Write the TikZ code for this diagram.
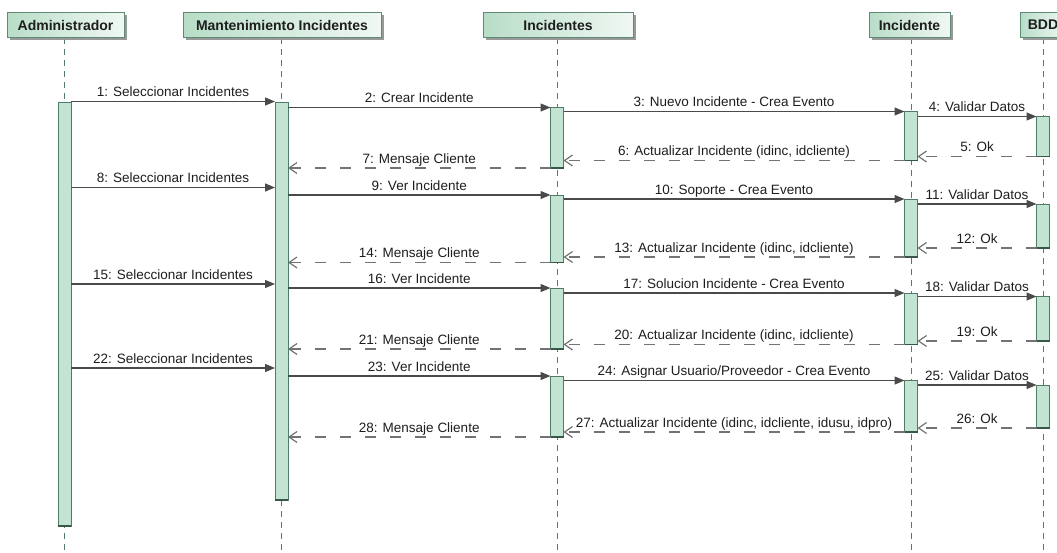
\documentclass[tikz,border=0pt]{standalone}
\usepackage{fontspec}
\setmainfont{Liberation Sans}
\usetikzlibrary{arrows.meta,shadows}
\definecolor{barfill}{HTML}{C3E3D3}
\definecolor{bardraw}{HTML}{4E7C66}
\definecolor{hdrG}{HTML}{B8DDC7}
\definecolor{hdrW}{HTML}{F0F8F3}
\definecolor{hdrdraw}{HTML}{5F8A75}
\definecolor{lifecol}{HTML}{557A68}
\definecolor{callcol}{HTML}{4A4A4A}
\definecolor{retcol}{HTML}{737373}
\definecolor{txtcol}{HTML}{1E1E1E}
\pgfdeclarelayer{bg}
\pgfsetlayers{bg,main}
\newcommand{\actbar}[4]{\node[actbar, minimum height={#4-#3}, anchor=north] (#1) at (#2,#3) {};
  \draw[bardraw!70!black, line width=1.6pt] (#1.south west) -- (#1.south east);}
\newcommand{\callmsg}[4]{\draw[callarrow] (#1.east |- 0,#3) -- node[lbl]{#4} (#2.west |- 0,#3);}
\newcommand{\retmsg}[4]{\draw[retarrow] (#1.west |- 0,#3) -- node[lbl]{#4} (#2.east |- 0,#3);}
\begin{document}
\begin{tikzpicture}[x=1pt,y=-1pt,
  hdr/.style={draw=hdrdraw, line width=1pt, left color=hdrG, right color=hdrW, minimum height=25pt, inner sep=0pt,
    font=\fontsize{14}{16}\selectfont\bfseries, text=txtcol,
    drop shadow={shadow xshift=2.5pt, shadow yshift=-2.5pt, fill=black!40, opacity=1}},
  actbar/.style={draw=bardraw, fill=barfill, line width=1pt, minimum width=13pt, inner sep=0pt, outer sep=0pt},
  lifeline/.style={draw=lifecol, line width=1pt, dash pattern=on 6pt off 5pt},
  callarrow/.style={draw=callcol, line width=1.2pt, -{Triangle[length=10pt,width=8pt]}},
  retarrow/.style={draw=retcol, line width=1.2pt, dash pattern=on 11pt off 14pt,
    -{Straight Barb[length=8pt,width=11pt,line width=1.2pt]}},
  lbl/.style={anchor=base, yshift=5pt, inner sep=0pt, font=\fontsize{13.5}{15}\selectfont, text=txtcol}
]
\useasboundingbox (0,0) rectangle (1057,552);
\clip (0,0) rectangle (1057,552);

% headers
\node[hdr, minimum width=117pt] (hadm) at (65.5,25) {Administrador};
\node[hdr, minimum width=198pt] (hman) at (282,25) {Mantenimiento Incidentes};
\node[hdr, minimum width=150pt] (hincs) at (558,25) {Incidentes};
\node[hdr, minimum width=81pt] (hind) at (909.5,25) {Incidente};
\node[hdr, minimum width=46pt] (hbdd) at (1043,25) {BDD};

% activation bars
\actbar{badm}{64.5}{102}{526}
\actbar{bman}{281.5}{102}{500}
\actbar{binca}{557}{107.5}{168}
\actbar{bincb}{557}{195}{262.5}
\actbar{bincc}{557}{288}{349}
\actbar{bincd}{557}{376}{437}
\actbar{binda}{911}{111.5}{160.5}
\actbar{bindb}{911}{199}{257}
\actbar{bindc}{911}{293}{344.5}
\actbar{bindd}{911}{380.5}{432}
\actbar{bbdda}{1043}{116.5}{156.5}
\actbar{bbddb}{1043}{204}{248}
\actbar{bbddc}{1043}{296.5}{341}
\actbar{bbddd}{1043}{385}{428}

% background and lifelines
\begin{pgfonlayer}{bg}
\fill[white] (0,0) rectangle (1057,552);
\draw[lifeline] (badm |- hadm.south) -- (badm |- 0,552);
\draw[lifeline] (bman |- hman.south) -- (bman |- 0,552);
\draw[lifeline] (binca |- hincs.south) -- (binca |- 0,552);
\draw[lifeline] (binda |- hind.south) -- (binda |- 0,552);
\draw[lifeline] (bbdda |- hbdd.south) -- (bbdda |- 0,552);
\end{pgfonlayer}

% messages
\callmsg{badm}{bman}{101.5}{1: Seleccionar Incidentes}
\callmsg{bman}{binca}{107.5}{2: Crear Incidente}
\callmsg{binca}{binda}{111.5}{3: Nuevo Incidente - Crea Evento}
\callmsg{binda}{bbdda}{116.5}{4: Validar Datos}
\retmsg{bbdda}{binda}{156.5}{5: Ok}
\retmsg{binda}{binca}{160.5}{6: Actualizar Incidente (idinc, idcliente)}
\retmsg{binca}{bman}{168}{7: Mensaje Cliente}

\callmsg{badm}{bman}{187.5}{8: Seleccionar Incidentes}
\callmsg{bman}{bincb}{195}{9: Ver Incidente}
\callmsg{bincb}{bindb}{199}{10: Soporte - Crea Evento}
\callmsg{bindb}{bbddb}{204}{11: Validar Datos}
\retmsg{bbddb}{bindb}{248}{12: Ok}
\retmsg{bindb}{bincb}{257}{13: Actualizar Incidente (idinc, idcliente)}
\retmsg{bincb}{bman}{262.5}{14: Mensaje Cliente}

\callmsg{badm}{bman}{284}{15: Seleccionar Incidentes}
\callmsg{bman}{bincc}{288}{16: Ver Incidente}
\callmsg{bincc}{bindc}{293}{17: Solucion Incidente - Crea Evento}
\callmsg{bindc}{bbddc}{296.5}{18: Validar Datos}
\retmsg{bbddc}{bindc}{341}{19: Ok}
\retmsg{bindc}{bincc}{344.5}{20: Actualizar Incidente (idinc, idcliente)}
\retmsg{bincc}{bman}{349}{21: Mensaje Cliente}

\callmsg{badm}{bman}{368}{22: Seleccionar Incidentes}
\callmsg{bman}{bincd}{376}{23: Ver Incidente}
\callmsg{bincd}{bindd}{380.5}{24: Asignar Usuario/Proveedor - Crea Evento}
\callmsg{bindd}{bbddd}{385}{25: Validar Datos}
\retmsg{bbddd}{bindd}{428}{26: Ok}
\retmsg{bindd}{bincd}{432}{27: Actualizar Incidente (idinc, idcliente, idusu, idpro)}
\retmsg{bincd}{bman}{437}{28: Mensaje Cliente}
\end{tikzpicture}
\end{document}
